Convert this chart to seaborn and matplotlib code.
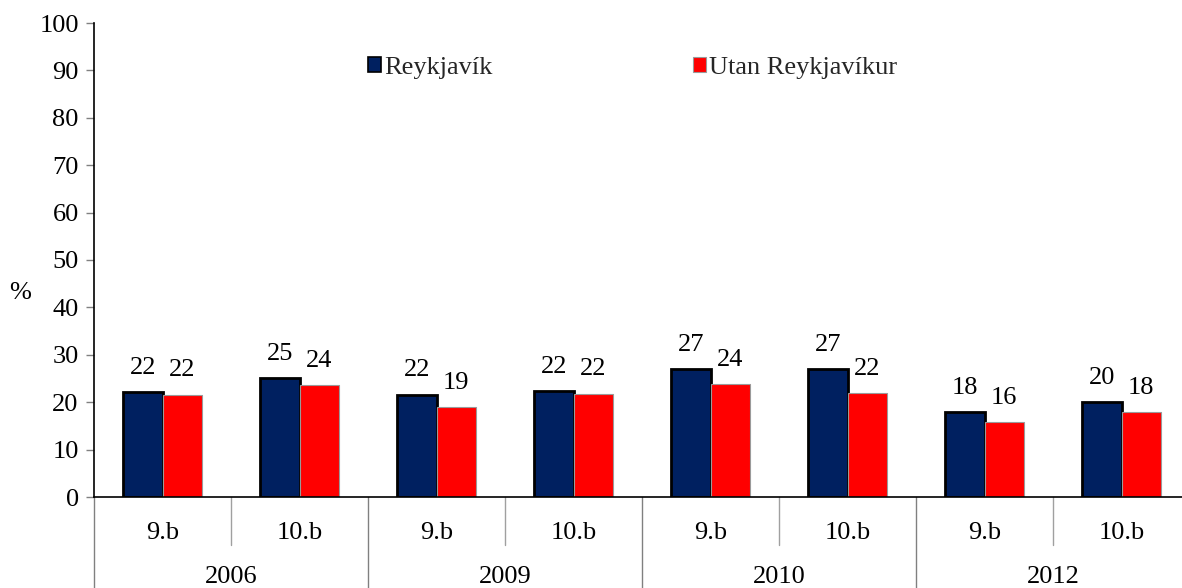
import matplotlib
matplotlib.use("Agg")
import matplotlib.pyplot as plt
import matplotlib.transforms as mtransforms
from matplotlib.patches import Patch
import numpy as np
import pandas as pd
import seaborn as sns

# Survey results (%), by year and school grade
years = ["2006", "2009", "2010", "2012"]
grades = ["9.b", "10.b"]
reykjavik = [22.1, 25.1, 21.6, 22.3, 26.9, 26.9, 17.9, 20.0]
utan_reykjavikur = [21.6, 23.6, 18.9, 21.8, 23.8, 21.9, 15.8, 17.9]
series_names = ["Reykjavík", "Utan Reykjavíkur"]
y_ticks = list(range(0, 101, 10))

categories = [f"{y} {g}" for y in years for g in grades]
df = pd.DataFrame({
    "flokkur": categories * 2,
    "hopur": [series_names[0]] * len(categories) + [series_names[1]] * len(categories),
    "gildi": reykjavik + utan_reykjavikur,
})

sns.set_theme(style="white")
plt.rcParams["font.family"] = ["Liberation Serif", "DejaVu Serif"]
FS = 19

W, H = 1182, 588
fig = plt.figure(figsize=(W / 100, H / 100), dpi=100)
ax = fig.add_axes([94 / W, (H - 497) / H, (W - 94) / W, (497 - 23) / H])

colors = {series_names[0]: "#002060", series_names[1]: "#FF0000"}
sns.barplot(data=df, x="flokkur", y="gildi", hue="hopur", order=categories,
            hue_order=series_names, palette=colors, width=0.57, gap=0,
            saturation=1, legend=False, ax=ax)

# Outline styles per series
for p in ax.containers[0]:
    p.set_edgecolor("black")
    p.set_linewidth(2.0)
for p in ax.containers[1]:
    p.set_edgecolor("#9a9a9a")
    p.set_linewidth(0.8)

# Value labels above each bar
for cont in ax.containers:
    for p in cont:
        v = p.get_height()
        ax.annotate(f"{v:.0f}", (p.get_x() + p.get_width() / 2, v),
                    xytext=(0, 17.5), textcoords="offset points",
                    ha="center", va="center", fontsize=FS, color="black")

ax.set_ylim(0, 100)
ax.set_xlim(-0.5, -0.5 + (W - 94) / 137)
ax.set_yticks(y_ticks)
ax.set_yticklabels([str(t) for t in y_ticks], fontsize=FS, color="black")
ax.tick_params(axis="y", direction="out", length=6, width=1, color="#808080",
               pad=5, left=True)
ax.set_xticks(range(len(categories)))
ax.set_xticklabels(grades * len(years), fontsize=FS, color="black")
ax.tick_params(axis="x", length=0, pad=18)
ax.set_xlabel("")
ax.set_ylabel("")

for s in ["top", "right"]:
    ax.spines[s].set_visible(False)
for s in ["left", "bottom"]:
    ax.spines[s].set_color("black")
    ax.spines[s].set_linewidth(1.2)

# Two-level category axis: separators and year labels
axis_h = 497 - 23
trans = mtransforms.blended_transform_factory(ax.transData, ax.transAxes)
for i in range(len(categories)):
    x = i - 0.5
    if i % 2 == 0:
        y_end = -(H - 497) / axis_h
        col = "#808080"
    else:
        y_end = -(545 - 497) / axis_h
        col = "#a0a0a0"
    ax.plot([x, x], [0, y_end], transform=trans, color=col, lw=1.0,
            clip_on=False)
for j, yr in enumerate(years):
    ax.text(2 * j + 0.5, -(577 - 497) / axis_h, yr, transform=trans,
            ha="center", va="center", fontsize=FS, color="black")

fig.text(20 / W, 1 - 293 / H, "%", ha="center", va="center", fontsize=FS,
         color="black")

handles = [Patch(facecolor=colors[series_names[0]], edgecolor="black", lw=1.2),
           Patch(facecolor=colors[series_names[1]], edgecolor="#9a9a9a", lw=0.8)]
fig.legend(handles, series_names, loc="center left",
           bbox_to_anchor=(368 / W, 1 - 68 / H), ncol=2, frameon=False,
           fontsize=FS, handlelength=0.5, handleheight=0.5,
           handletextpad=0.1, columnspacing=7.6, borderpad=0,
           borderaxespad=0)

fig.savefig("out.png", dpi=100)
